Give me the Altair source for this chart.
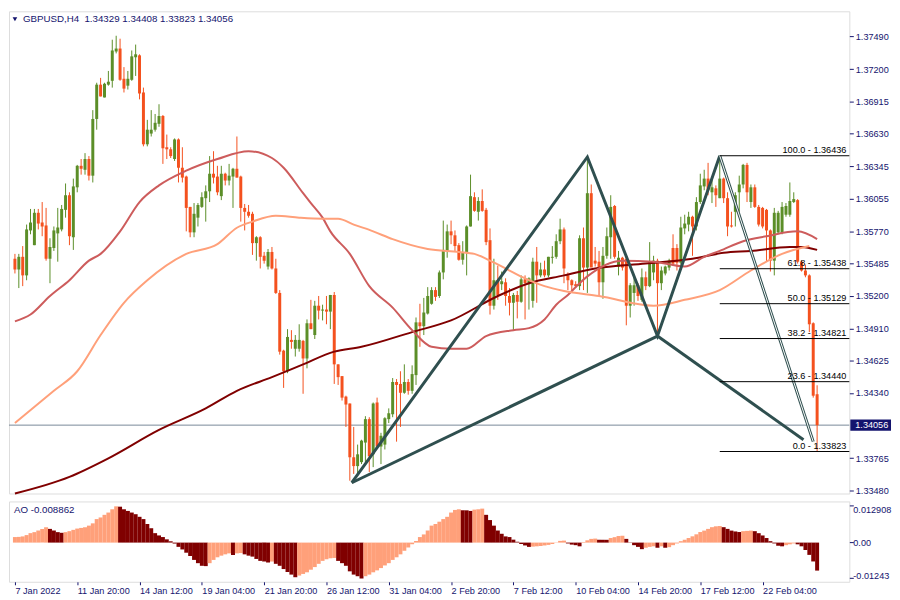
import altair as alt
import pandas as pd

# ---------------- data (GBPUSD, H4) ----------------
opens = [
1.35526,1.35431,1.35543,1.35379,1.35776,1.35646,1.35932,1.35846,1.35820,1.35526,
1.35621,1.35750,1.35785,1.35958,1.36087,1.35716,1.36157,1.36347,1.36312,1.36407,
1.36260,1.36761,1.37064,1.36951,1.37064,1.37098,1.37357,1.37383,1.37116,1.37055,
1.37107,1.37306,1.37323,1.36995,1.36537,1.36632,1.36666,1.36718,1.36787,1.36511,
1.36493,1.36407,1.36580,1.36330,1.36252,1.35984,1.35759,1.35889,1.35984,1.36061,
1.36122,1.36277,1.36252,1.36079,1.36277,1.36217,1.36252,1.36321,1.36252,1.35975,
1.35941,1.35923,1.35664,1.35716,1.35552,1.35457,1.35586,1.35440,1.35224,1.34714,
1.34532,1.34809,1.34731,1.34731,1.34800,1.34645,1.34956,1.34852,1.35111,1.35068,
1.35077,1.35059,1.35206,1.34593,1.34489,1.34308,1.34247,1.33772,1.33694,1.33729,
1.33902,1.34109,1.33798,1.34256,1.33867,1.33884,1.34109,1.34152,1.34437,1.34420,
1.34342,1.34437,1.34359,1.34498,1.34964,1.34930,1.35042,1.35128,1.35249,1.35197,
1.35405,1.35595,1.35768,1.35733,1.35646,1.35517,1.35578,1.35811,1.36070,1.35941,
1.36036,1.35958,1.35690,1.35111,1.35336,1.35301,1.35318,1.35197,1.35137,1.35206,
1.35146,1.35344,1.35301,1.35154,1.35500,1.35379,1.35431,1.35379,1.35535,1.35543,
1.35681,1.35785,1.35379,1.35336,1.35301,1.35284,1.35707,1.35448,1.36105,1.35509,
1.35500,1.35318,1.35552,1.35716,1.35992,1.35457,1.35535,1.35526,1.35111,1.35224,
1.35292,1.35163,1.35362,1.35284,1.35405,1.35509,1.35310,1.35396,1.35448,1.35621,
1.35621,1.35491,1.35794,1.35828,1.35897,1.35811,1.36027,1.36165,1.36234,1.36113,
1.36148,1.36061,1.36234,1.36061,1.35820,1.35941,1.36113,1.36182,1.36355,1.36027,
1.36157,1.35984,1.35975,1.35958,1.35776,1.35509,1.35759,1.35759,1.35915,1.35915,
1.36027,1.36044,1.35500,1.35422,1.35379,1.34956,1.34329]

highs = [
1.35569,1.35569,1.35638,1.35828,1.35966,1.35966,1.35966,1.36027,1.35975,1.35707,
1.35811,1.35975,1.36001,1.36191,1.36113,1.36234,1.36355,1.36407,1.36459,1.36433,
1.36839,1.37081,1.37124,1.37081,1.37185,1.37461,1.37496,1.37470,1.37219,1.37185,
1.37366,1.37418,1.37332,1.37038,1.36753,1.36839,1.36805,1.36891,1.36796,1.36623,
1.36511,1.36589,1.36589,1.36511,1.36260,1.35984,1.36018,1.36018,1.36113,1.36174,
1.36433,1.36476,1.36347,1.36347,1.36286,1.36364,1.36329,1.36606,1.36260,1.36010,
1.36001,1.35941,1.35725,1.35725,1.35586,1.35612,1.35630,1.35526,1.35249,1.34722,
1.34904,1.34895,1.34852,1.34947,1.34809,1.34990,1.35163,1.35154,1.35197,1.35120,
1.35197,1.35206,1.35232,1.34593,1.34489,1.34316,1.34247,1.34040,1.33884,1.33927,
1.34135,1.34126,1.34256,1.34299,1.33988,1.34126,1.34204,1.34472,1.34463,1.34532,
1.34593,1.34463,1.34584,1.35007,1.35128,1.35180,1.35275,1.35275,1.35275,1.35422,
1.35863,1.35828,1.35863,1.35776,1.35664,1.35681,1.35820,1.36269,1.36113,1.36070,
1.36139,1.35975,1.35794,1.35526,1.35465,1.35413,1.35353,1.35267,1.35224,1.35241,
1.35379,1.35379,1.35362,1.35535,1.35630,1.35491,1.35509,1.35543,1.35638,1.35742,
1.35880,1.35802,1.35405,1.35344,1.35327,1.35733,1.35802,1.36425,1.36182,1.35630,
1.35595,1.35630,1.35802,1.36087,1.36001,1.35595,1.35543,1.35526,1.35310,1.35379,
1.35310,1.35440,1.35413,1.35673,1.35552,1.35526,1.35457,1.35465,1.35526,1.35742,
1.35655,1.35897,1.35915,1.35941,1.35906,1.36070,1.36277,1.36312,1.36373,1.36243,
1.36174,1.36436,1.36243,1.36113,1.35941,1.36113,1.36260,1.36364,1.36373,1.36182,
1.36182,1.36001,1.35984,1.35966,1.35785,1.35975,1.35949,1.36027,1.36018,1.36200,
1.36113,1.36053,1.35509,1.35474,1.35388,1.34964,1.34408]

lows = [
1.35396,1.35267,1.35284,1.35336,1.35742,1.35646,1.35785,1.35725,1.35509,1.35310,
1.35595,1.35500,1.35768,1.35889,1.35646,1.35604,1.36113,1.36269,1.36269,1.36217,
1.36200,1.36666,1.36960,1.36951,1.37055,1.37038,1.37340,1.37098,1.36995,1.37021,
1.37098,1.37141,1.36934,1.36519,1.36519,1.36606,1.36649,1.36692,1.36364,1.36407,
1.36416,1.36390,1.36200,1.36200,1.35768,1.35716,1.35716,1.35811,1.35975,1.35854,
1.36027,1.36191,1.36087,1.36044,1.36174,1.36174,1.35975,1.36243,1.35854,1.35776,
1.35889,1.35560,1.35509,1.35440,1.35483,1.35431,1.35431,1.35215,1.34679,1.34385,
1.34515,1.34731,1.34662,1.34705,1.34333,1.34558,1.34904,1.34817,1.34990,1.34981,
1.34947,1.34904,1.34420,1.34411,1.34273,1.34040,1.33565,1.33625,1.33608,1.33712,
1.33729,1.33642,1.33685,1.33858,1.33712,1.33841,1.34074,1.34126,1.33910,1.34040,
1.34333,1.34325,1.34333,1.34411,1.34748,1.34852,1.35033,1.35120,1.35154,1.35180,
1.35344,1.35535,1.35655,1.35595,1.35509,1.35474,1.35379,1.35811,1.35941,1.35863,
1.35941,1.35646,1.35033,1.35077,1.35163,1.35249,1.35111,1.35025,1.34895,1.34999,
1.35137,1.34990,1.35077,1.35094,1.35137,1.35362,1.35362,1.35362,1.35483,1.35526,
1.35655,1.35310,1.35249,1.35249,1.35267,1.35249,1.35249,1.35224,1.35457,1.35457,
1.35197,1.35172,1.35526,1.35526,1.35526,1.35379,1.35422,1.34938,1.35007,1.35111,
1.35154,1.35146,1.35249,1.35275,1.35336,1.34852,1.35249,1.35379,1.35422,1.35465,
1.35422,1.35474,1.35742,1.35768,1.35552,1.35776,1.36010,1.36131,1.36087,1.36018,
1.35984,1.36061,1.36018,1.35725,1.35802,1.35811,1.35941,1.36148,1.36027,1.35975,
1.35975,1.35811,1.35794,1.35500,1.35413,1.35379,1.35742,1.35742,1.35897,1.35897,
1.36018,1.35483,1.35413,1.35362,1.34878,1.34299,1.33823]

closes = [
1.35431,1.35543,1.35379,1.35785,1.35846,1.35932,1.35837,1.35811,1.35526,1.35630,
1.35776,1.35802,1.35966,1.36087,1.35725,1.36165,1.36347,1.36321,1.36407,1.36260,
1.36761,1.37064,1.36960,1.37072,1.37090,1.37366,1.37383,1.37107,1.37029,1.37116,
1.37314,1.37332,1.36986,1.36537,1.36666,1.36666,1.36727,1.36787,1.36502,1.36493,
1.36433,1.36580,1.36330,1.36243,1.35975,1.35759,1.35923,1.36001,1.36070,1.36122,
1.36277,1.36243,1.36113,1.36277,1.36217,1.36260,1.36321,1.36243,1.35975,1.35941,
1.35906,1.35664,1.35716,1.35543,1.35509,1.35586,1.35440,1.35224,1.34705,1.34532,
1.34835,1.34791,1.34809,1.34809,1.34645,1.34956,1.34904,1.35111,1.35068,1.35077,
1.35059,1.35206,1.34593,1.34480,1.34299,1.34238,1.33772,1.33694,1.33798,1.33919,
1.34109,1.33781,1.34247,1.33867,1.33962,1.34117,1.34161,1.34437,1.34411,1.34342,
1.34437,1.34359,1.34507,1.34964,1.34930,1.35051,1.35197,1.35249,1.35189,1.35405,
1.35604,1.35768,1.35733,1.35638,1.35517,1.35586,1.35811,1.36079,1.35949,1.36036,
1.35949,1.35673,1.35111,1.35336,1.35206,1.35327,1.35197,1.35137,1.35206,1.35146,
1.35344,1.35310,1.35353,1.35500,1.35379,1.35431,1.35379,1.35543,1.35543,1.35681,
1.35785,1.35440,1.35336,1.35292,1.35284,1.35707,1.35448,1.36105,1.35448,1.35483,
1.35318,1.35552,1.35725,1.35984,1.35543,1.35535,1.35448,1.35111,1.35292,1.35292,
1.35197,1.35362,1.35284,1.35500,1.35509,1.35310,1.35422,1.35457,1.35509,1.35483,
1.35491,1.35802,1.35837,1.35897,1.35811,1.36027,1.36174,1.36234,1.36131,1.36157,
1.36087,1.36234,1.36061,1.35811,1.35811,1.36087,1.36182,1.36355,1.36113,1.36157,
1.35984,1.35828,1.35811,1.35776,1.35509,1.35932,1.35932,1.35984,1.35992,1.36036,
1.36053,1.35500,1.35422,1.35379,1.34947,1.34316,1.34056]

# Awesome Oscillator histogram
ao_values = [
0.00194,0.00200,0.00217,0.00263,0.00331,0.00366,0.00423,0.00480,0.00537,0.00480,
0.00423,0.00366,0.00343,0.00366,0.00400,0.00446,0.00491,0.00514,0.00537,0.00594,
0.00674,0.00823,0.00880,0.00972,0.01052,0.01166,0.01269,0.01257,0.01166,0.01109,
0.01052,0.00994,0.00903,0.00823,0.00652,0.00503,0.00331,0.00251,0.00194,0.00114,
0.00046,-0.00034,-0.00149,-0.00240,-0.00354,-0.00469,-0.00606,-0.00720,-0.00812,-0.00823,
-0.00720,-0.00606,-0.00514,-0.00457,-0.00411,-0.00377,-0.00434,-0.00377,-0.00366,-0.00411,
-0.00457,-0.00491,-0.00572,-0.00640,-0.00663,-0.00697,-0.00663,-0.00743,-0.00812,-0.00926,
-0.01029,-0.01120,-0.01212,-0.01154,-0.01097,-0.01040,-0.00949,-0.00857,-0.00743,-0.00640,
-0.00583,-0.00549,-0.00537,-0.00640,-0.00720,-0.00812,-0.01006,-0.01120,-0.01177,-0.01257,
-0.01177,-0.01120,-0.01040,-0.00972,-0.00892,-0.00800,-0.00720,-0.00606,-0.00514,-0.00411,
-0.00286,-0.00171,-0.00057,0.00057,0.00194,0.00286,0.00423,0.00594,0.00652,0.00732,
0.00823,0.00903,0.01052,0.01143,0.01166,0.01132,0.01130,0.01109,0.01154,0.01166,
0.01189,0.00972,0.00789,0.00594,0.00423,0.00309,0.00217,0.00194,0.00103,0.00030,
-0.00050,-0.00100,-0.00150,-0.00140,-0.00130,-0.00120,-0.00100,-0.00080,-0.00050,-0.00010,
0.00060,0.00070,-0.00030,-0.00070,-0.00090,-0.00130,0.00020,0.00080,0.00130,0.00140,
0.00100,0.00099,0.00098,0.00160,0.00190,0.00230,0.00240,0.00130,-0.00010,-0.00090,
-0.00150,-0.00230,-0.00180,-0.00150,-0.00130,-0.00180,-0.00130,-0.00180,-0.00160,-0.00090,
-0.00030,0.00050,0.00100,0.00160,0.00220,0.00290,0.00370,0.00420,0.00480,0.00540,
0.00570,0.00580,0.00540,0.00480,0.00420,0.00390,0.00370,0.00400,0.00410,0.00420,
0.00400,0.00330,0.00250,0.00160,0.00050,-0.00030,-0.00110,-0.00130,-0.00090,-0.00060,
-0.00030,-0.00060,-0.00130,-0.00260,-0.00430,-0.00660,-0.00980]

# moving averages (sampled along the curves)
ma_slow_bars = [0,14,24,37,49,57,66,74,82,89,102,112,124,132,141,149,162,174,182,189,199,202,206]
ma_slow_vals = [1.33452,1.33599,1.33763,1.34014,1.34204,1.34359,1.34480,1.34593,1.34705,1.34748,
                1.34878,1.34981,1.35197,1.35310,1.35379,1.35440,1.35483,1.35526,1.35578,1.35595,
                1.35630,1.35630,1.35604]
ma_mid_bars = [0,4,9,14,19,22,27,32,37,44,52,60,66,69,74,76,79,81,86,91,97,102,107,112,116,121,
               128,132,136,139,142,145,147,156,164,172,177,181,187,193,201,206]
ma_mid_vals = [1.34973,1.35033,1.35197,1.35336,1.35509,1.35569,1.35768,1.36027,1.36174,1.36304,
               1.36407,1.36476,1.36416,1.36330,1.36105,1.36018,1.35889,1.35768,1.35569,1.35284,
               1.35094,1.34895,1.34748,1.34731,1.34731,1.34843,1.34895,1.34913,1.34990,1.35120,
               1.35206,1.35310,1.35370,1.35509,1.35500,1.35457,1.35543,1.35595,1.35681,1.35725,
               1.35768,1.35699]
ma_fast_bars = [0,10,16,22,28,34,44,52,57,61,67,73,79,83,87,92,97,106,114,118,122,127,131,136,
                141,150,164,172,181,189,197,204]
ma_fast_vals = [1.34074,1.34359,1.34532,1.34852,1.35137,1.35336,1.35569,1.35655,1.35800,1.35854,
                1.35906,1.35889,1.35880,1.35880,1.35828,1.35768,1.35699,1.35612,1.35586,1.35569,
                1.35509,1.35422,1.35353,1.35284,1.35241,1.35197,1.35111,1.35163,1.35249,1.35422,
                1.35569,1.35638]

# harmonic pattern points X, A, B, C, D', D
pattern_names = ["X", "A", "B", "C", "D1", "D"]
pattern_bars = [86.5, 147, 165, 181, 202.5, 205]
pattern_prices = [1.33547, 1.36425, 1.34843, 1.36436, 1.33927, 1.33910]

# Fibonacci retracement
fib_levels = [100.0, 61.8, 50.0, 38.2, 23.6, 0.0]
fib_prices = [1.36436, 1.35438, 1.35129, 1.34821, 1.34440, 1.33823]
fib_start_bar = 181

current_price = 1.34056
price_ticks = [1.37490, 1.37200, 1.36915, 1.36630, 1.36345, 1.36055, 1.35770, 1.35485,
               1.35200, 1.34910, 1.34625, 1.34340, 1.33765, 1.33480]
ao_ticks = [0.012908, 0.0, -0.01243]
ao_tick_text = ["0.012908", "0.00", "-0.01243"]
tick_bars = [0, 16, 32, 48, 64, 80, 96, 112, 128, 144, 160, 176, 192]
tick_labels = ["7 Jan 2022", "11 Jan 20:00", "14 Jan 12:00", "19 Jan 04:00", "21 Jan 20:00",
               "26 Jan 12:00", "31 Jan 04:00", "2 Feb 20:00", "7 Feb 12:00", "10 Feb 04:00",
               "14 Feb 20:00", "17 Feb 12:00", "22 Feb 04:00"]
title_text = "GBPUSD,H4\u00a0 1.34329 1.34408 1.33823 1.34056"
ao_title = "AO -0.008862"

# ---------------- styling ----------------
W, H1, H2 = 847, 486, 81
NAVY = "#14146e"
FONT = "Liberation Sans"
FS = 9.2
BULL, BEAR = "#5b8e28", "#f4511e"
AO_UP, AO_DOWN = "#ffa07a", "#800000"
PATTERN = "#2f4f4f"

x_scale = alt.Scale(domain=[-0.25, 213], nice=False, zero=False)
y_scale = alt.Scale(domain=[1.33452, 1.37712], nice=False, zero=False)
ao_scale = alt.Scale(domain=[-0.01372, 0.01441], nice=False, zero=False)

price_axis = alt.Axis(orient="right", values=price_ticks, format=".5f", title=None, grid=False,
                      domain=False, tickSize=4, tickColor=NAVY, labelColor=NAVY, labelFont=FONT,
                      labelFontSize=FS, labelPadding=2, labelOverlap=False, labelFlush=False)
ao_axis = alt.Axis(orient="right", values=ao_ticks, labels=False, title=None, grid=False,
                   domain=False, tickSize=4, tickColor=NAVY)
label_expr = "[" + ",".join("'%s'" % t for t in tick_labels) + "][round(datum.value/16)]"
time_axis = alt.Axis(orient="bottom", values=tick_bars, labelExpr=label_expr, title=None,
                     grid=False, domain=False, tickSize=3, tickColor=NAVY, labelColor=NAVY,
                     labelFont=FONT, labelFontSize=FS, labelAlign="left", labelPadding=2,
                     labelOverlap=False, labelFlush=False)


def px(field):
    return alt.X(field, type="quantitative", scale=x_scale, axis=None)


def py(field):
    return alt.Y(field, type="quantitative", scale=y_scale, axis=price_axis)


# ---------------- price pane ----------------
bars = pd.DataFrame({"i": range(len(opens)), "open": opens, "high": highs,
                     "low": lows, "close": closes})
bars["dir"] = ["up" if c >= o else "down" for o, c in zip(opens, closes)]
candle_color = alt.Color("dir:N", scale=alt.Scale(domain=["up", "down"], range=[BULL, BEAR]),
                         legend=None)

cur_df = pd.DataFrame({"p": [current_price], "top": [current_price + 0.00050],
                       "bot": [current_price - 0.00050], "t": ["%.5f" % current_price]})
cur_line = alt.Chart(cur_df).mark_rule(color="#778899", strokeWidth=1).encode(y=py("p"))

wicks = alt.Chart(bars).mark_rule(strokeWidth=1).encode(
    x=px("i"), y=py("low"), y2=alt.Y2("high"), color=candle_color)
bodies = alt.Chart(bars).mark_bar(size=3).encode(
    x=px("i"), y=py("open"), y2=alt.Y2("close"), color=candle_color)


def ma_layer(bars_, vals_, color):
    d = pd.DataFrame({"i": bars_, "v": vals_})
    return alt.Chart(d).mark_line(color=color, strokeWidth=2, interpolate="monotone").encode(
        x=px("i"), y=py("v"))


ma_slow = ma_layer(ma_slow_bars, ma_slow_vals, "#800000")
ma_mid = ma_layer(ma_mid_bars, ma_mid_vals, "#cd5c5c")
ma_fast = ma_layer(ma_fast_bars, ma_fast_vals, "#ffa07a")

pt = dict(zip(pattern_names, zip(pattern_bars, pattern_prices)))
seg_rows = []
for seg, names in [("legs", ["X", "A", "B", "C"]), ("xb", ["X", "B"]), ("bd", ["B", "D1"])]:
    for k, nm in enumerate(names):
        seg_rows.append({"seg": seg, "ord": k, "i": pt[nm][0], "p": pt[nm][1]})
seg_df = pd.DataFrame(seg_rows)
cd_df = pd.DataFrame({"seg": ["cd", "cd"], "ord": [0, 1], "i": [pt["C"][0], pt["D"][0]],
                      "p": [pt["C"][1], pt["D"][1]]})
pattern = alt.Chart(seg_df).mark_line(color=PATTERN, strokeWidth=3, strokeJoin="miter").encode(
    x=px("i"), y=py("p"), detail="seg:N", order="ord:Q")
cd_dark = alt.Chart(cd_df).mark_line(color=PATTERN, strokeWidth=3).encode(
    x=px("i"), y=py("p"), order="ord:Q")
cd_white = alt.Chart(cd_df).mark_line(color="white", strokeWidth=1).encode(
    x=px("i"), y=py("p"), order="ord:Q")

fib_df = pd.DataFrame({"level": fib_levels, "price": fib_prices,
                       "start": [fib_start_bar] * len(fib_levels)})
fib_df["label"] = ["%.1f - %.5f" % (l, p) for l, p in zip(fib_levels, fib_prices)]
fib_rules = alt.Chart(fib_df).mark_rule(color="black", strokeWidth=1).encode(
    x=px("start"), x2=alt.value(W), y=py("price"))
fib_text = alt.Chart(fib_df).mark_text(align="right", baseline="bottom", dy=-1, font=FONT,
                                       fontSize=FS, color="black").encode(
    x=alt.value(W - 3), y=py("price"), text="label:N")

box = alt.Chart(cur_df).mark_rect(color=NAVY).encode(
    x=alt.value(W + 1), x2=alt.value(W + 42), y=py("top"), y2=alt.Y2("bot"))
box_text = alt.Chart(cur_df).mark_text(align="left", baseline="middle", font=FONT, fontSize=FS,
                                       color="white").encode(
    x=alt.value(W + 6), y=py("p"), text="t:N")

title_df = pd.DataFrame({"t": [title_text]})
title = alt.Chart(title_df).mark_text(align="left", baseline="middle", font=FONT, fontSize=FS + 0.6,
                                      color=NAVY).encode(x=alt.value(14), y=alt.value(8), text="t:N")
tri = alt.Chart(title_df).mark_point(shape="triangle-down", filled=True, size=22, color=NAVY,
                                     opacity=1).encode(x=alt.value(6), y=alt.value(8))

price_chart = alt.layer(cur_line, wicks, bodies, ma_slow, ma_mid, ma_fast, pattern, cd_dark,
                        cd_white, fib_rules, fib_text, box, box_text, title, tri).properties(
    width=W, height=H1)

# ---------------- AO pane ----------------
ao_trend = ["rise"] + ["rise" if ao_values[k] > ao_values[k - 1] else "fall"
                       for k in range(1, len(ao_values))]
ao_df = pd.DataFrame({"i": range(len(ao_values)), "ao": ao_values, "trend": ao_trend})
ao_bars = alt.Chart(ao_df).mark_bar(size=4).encode(
    x=alt.X("i:Q", scale=x_scale, axis=time_axis),
    y=alt.Y("ao:Q", scale=ao_scale, axis=ao_axis),
    y2=alt.datum(0),
    color=alt.Color("trend:N", scale=alt.Scale(domain=["rise", "fall"], range=[AO_UP, AO_DOWN]),
                    legend=None))

ao_layers = [ao_bars]
for val, txt, dy in zip(ao_ticks, ao_tick_text, [4.5, 0, -2]):
    d = pd.DataFrame({"v": [val], "t": [txt]})
    ao_layers.append(alt.Chart(d).mark_text(align="left", baseline="middle", dy=dy, font=FONT,
                                            fontSize=FS, color=NAVY).encode(
        x=alt.value(W + 4), y=alt.Y("v:Q", scale=ao_scale, axis=ao_axis), text="t:N"))
ao_title_df = pd.DataFrame({"t": [ao_title]})
ao_layers.append(alt.Chart(ao_title_df).mark_text(align="left", baseline="middle", font=FONT,
                                                  fontSize=FS + 0.6, color=NAVY).encode(
    x=alt.value(5), y=alt.value(9), text="t:N"))

ao_chart = alt.layer(*ao_layers).properties(width=W, height=H2)

chart = alt.vconcat(price_chart, ao_chart, spacing=2).resolve_scale(
    color="independent"
).properties(
    padding={"left": 0, "top": 0, "right": 0, "bottom": 0}
).configure_view(stroke=NAVY, strokeWidth=1).configure(background="white")

chart.save("out.html", embed_options={"renderer": "svg", "actions": False})
